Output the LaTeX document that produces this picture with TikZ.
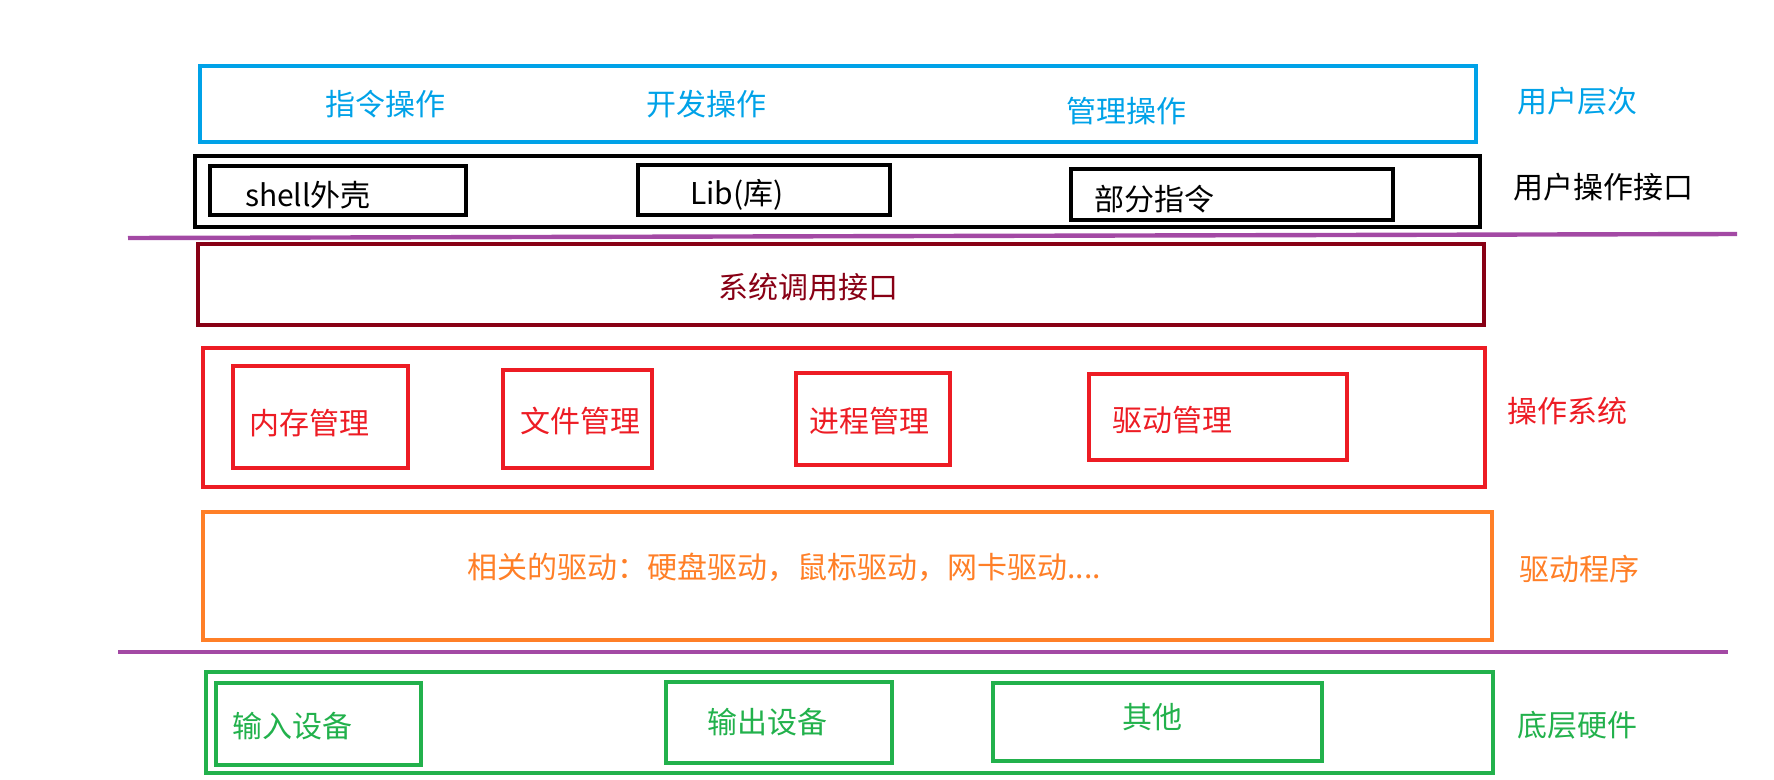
\documentclass[tikz,border=0pt]{standalone}
\usepackage{fontspec}
\setmainfont{Noto Sans CJK SC}
\usepackage{tikz}
\usetikzlibrary{fit}
\definecolor{userblue}{HTML}{00A2E8}
\definecolor{sysdark}{HTML}{880015}
\definecolor{osred}{HTML}{ED1C24}
\definecolor{drvorange}{HTML}{FF7F27}
\definecolor{hwgreen}{HTML}{22B14C}
\definecolor{sepline}{HTML}{A349A4}

\begin{document}
\begin{tikzpicture}[x=1pt, y=-1pt,
  layer/.style={draw=#1, line width=4.6pt, inner sep=0pt},
  txt/.style={text=#1, font=\fontsize{30}{34}\selectfont, inner sep=0pt},
  sep/.style={draw=sepline, line width=4.4pt}
]
\useasboundingbox (0,0) rectangle (1774,779);

% user layer
\node[layer=userblue, fit={(200,66) (1476,142)}] (user) {};
\node[txt=userblue] (cmdop) at (385,104) {指令操作};
\node[txt=userblue] (devop) at (706,104) {开发操作};
\node[txt=userblue] (mgrop) at (1126,111) {管理操作};
\node[txt=userblue] (userlbl) at (1577,101) {用户层次};

% user interface
\node[layer=black, fit={(195,156) (1480,227)}] (uif) {};
\node[layer=black, fit={(210,166) (466,215)}] (shellbox) {};
\node[layer=black, fit={(638,165) (890,215)}] (libbox) {};
\node[layer=black, fit={(1071,169) (1393,220)}] (cmdbox) {};
\node[txt=black] (shell) at (308,195) {shell外壳};
\node[txt=black] (lib) at (737,195) {Lib(库)};
\node[txt=black] (part) at (1154,199) {部分指令};
\node[txt=black] (uiflbl) at (1603,187) {用户操作接口};

\coordinate (sepAl) at (128,238);
\coordinate (sepAr) at (1737,234);
\draw[sep] (sepAl) -- (sepAr);

% system call
\node[layer=sysdark, fit={(198,244) (1484,325)}] (syscall) {};
\node[txt=sysdark] (syscalltxt) at (808,287) {系统调用接口};

% operating system
\node[layer=osred, fit={(203,348) (1485,487)}] (os) {};
\node[layer=osred, fit={(233,366) (408,468)}] (membox) {};
\node[layer=osred, fit={(503,370) (652,468)}] (filebox) {};
\node[layer=osred, fit={(796,373) (950,465)}] (procbox) {};
\node[layer=osred, fit={(1089,374) (1347,460)}] (drvbox) {};
\node[txt=osred] (mem) at (309,423) {内存管理};
\node[txt=osred] (file) at (580,421) {文件管理};
\node[txt=osred] (proc) at (869,421) {进程管理};
\node[txt=osred] (drv) at (1172,420) {驱动管理};
\node[txt=osred] (oslbl) at (1567,411) {操作系统};

% drivers
\node[layer=drvorange, fit={(203,512) (1492,640)}] (driver) {};
\node[txt=drvorange] (drvtxt) at (784,567) {相关的驱动：硬盘驱动，鼠标驱动，网卡驱动....};
\node[txt=drvorange] (drvlbl) at (1579,569) {驱动程序};

\coordinate (sepBl) at (118,652);
\coordinate (sepBr) at (1728,652);
\draw[sep] (sepBl) -- (sepBr);

% hardware
\node[layer=hwgreen, fit={(206,672) (1493,773)}] (hw) {};
\node[layer=hwgreen, fit={(216,683) (421,765)}] (inbox) {};
\node[layer=hwgreen, fit={(666,682) (892,763)}] (outbox) {};
\node[layer=hwgreen, fit={(993,683) (1322,761)}] (otherbox) {};
\node[txt=hwgreen] (indev) at (292,726) {输入设备};
\node[txt=hwgreen] (outdev) at (767,722) {输出设备};
\node[txt=hwgreen] (other) at (1152,717) {其他};
\node[txt=hwgreen] (hwlbl) at (1577,725) {底层硬件};
\end{tikzpicture}
\end{document}
